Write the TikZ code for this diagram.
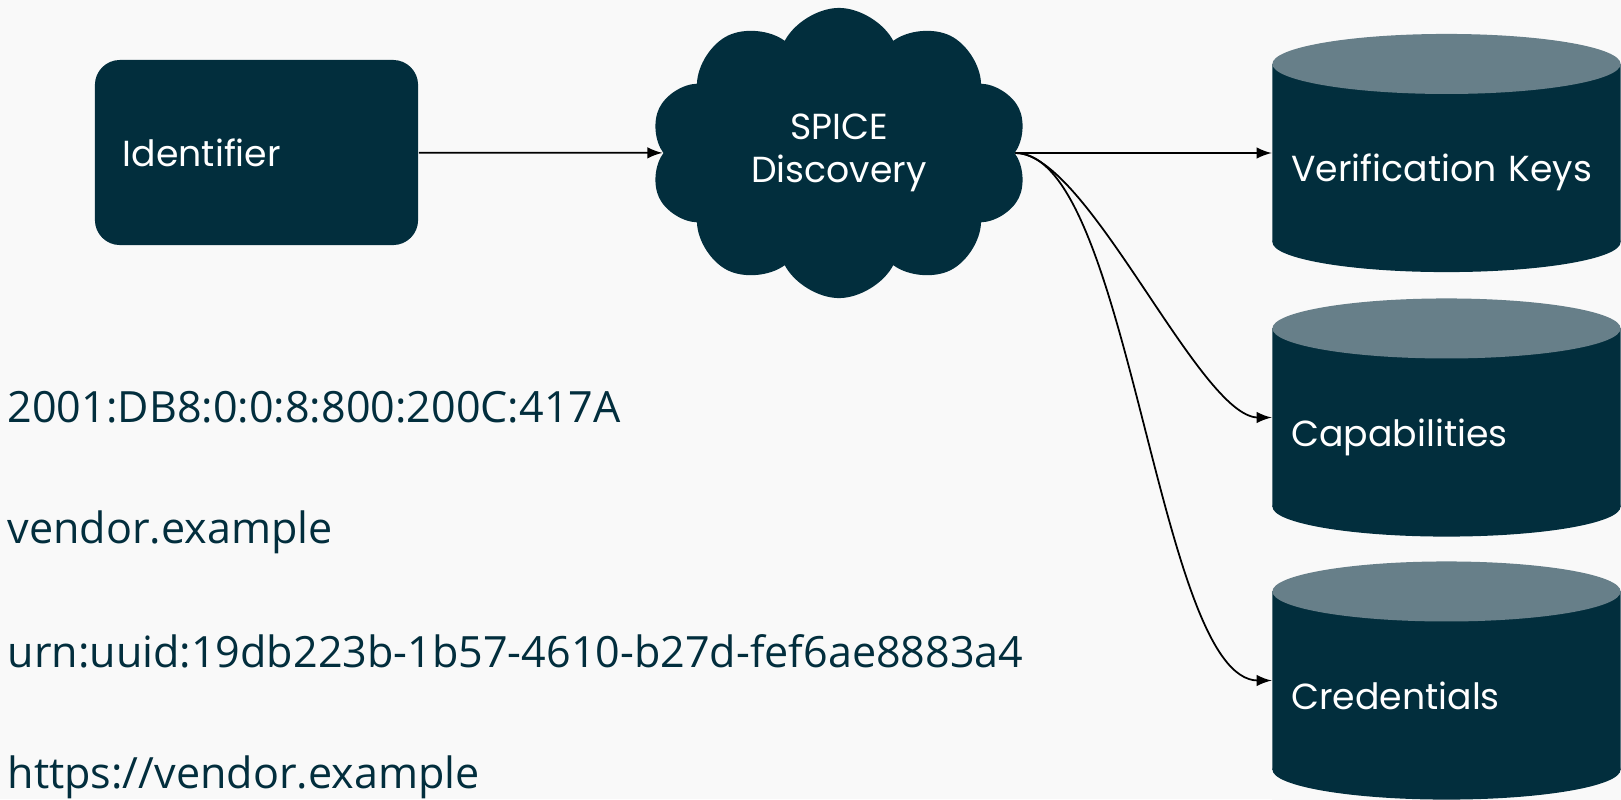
\documentclass[tikz,border=0pt]{standalone}
\usepackage{fontspec}
\setmainfont{Poppins}
\newfontfamily\listfont{Open Sans}
\usetikzlibrary{positioning,arrows,shapes.geometric,shapes.symbols}
\definecolor{spiceteal}{HTML}{022E3D}
\definecolor{spicetop}{HTML}{677F89}
\definecolor{spicebg}{HTML}{F9F9F9}

\begin{document}
\begin{tikzpicture}[x=0.01cm, y=-0.01cm,
  idbox/.style={fill=spiceteal, text=white, rounded corners=0.25cm, minimum width=3.23cm, minimum height=1.85cm, text width=2.67cm, align=left, font=\fontsize{10.3}{12}\selectfont},
  puff/.style={cloud, cloud puffs=10, cloud puff arc=125, cloud ignores aspect, fill=spiceteal, text=white, minimum width=3.78cm, minimum height=2.9cm, align=center, font=\fontsize{10.3}{12.2}\selectfont},
  store/.style={rectangle, fill=spicebg, inner sep=0, minimum width=3.48cm, minimum height=2.38cm, text=white, text width=3.1cm, align=left, text height=0.57cm, text depth=0pt, font=\fontsize{10.3}{12}\selectfont,
    path picture={
      \fill[spiceteal] ([yshift=-0.3cm]path picture bounding box.north west) rectangle ([yshift=0.3cm]path picture bounding box.south east);
      \fill[spiceteal] ([yshift=0.3cm]path picture bounding box.south) ellipse[x radius=1.74cm, y radius=0.3cm];
      \fill[spicetop] ([yshift=-0.3cm]path picture bounding box.north) ellipse[x radius=1.74cm, y radius=0.3cm];
    }},
  ident/.style={anchor=base west, inner sep=0, text=spiceteal, font=\listfont\fontsize{12.25}{15}\selectfont},
  arr/.style={-latex, line width=0.5pt}]
\fill[spicebg] (0,0) rectangle (1621,799);
\useasboundingbox (0,0) rectangle (1621,799);

\node[idbox] (id) at (256.5,152.5) {Identifier};
\node[puff] (spice) at (839,153) {SPICE\\Discovery};
\node[store] (keys) at (1446.5,153) {Verification Keys};
\node[store] (caps) at (1446.5,417.5) {Capabilities};
\node[store] (creds) at (1446.5,680.5) {Credentials};

\node[ident] (ipv6) at (7,422) {2001:DB8:0:0:8:800:200C:417A};
\node[ident] (dns) at (7,543) {vendor.example};
\node[ident] (uuid) at (7,667) {urn:uuid:19db223b-1b57-4610-b27d-fef6ae8883a4};
\node[ident] (url) at (7,788) {https://vendor.example};

\draw[arr] (id) -- (spice);
\draw[arr] (spice.east) -- (keys.west);
\draw[arr] (spice.east) to[out=0, in=180, looseness=0.5] (caps.west);
\draw[arr] (spice.east) to[out=0, in=180, looseness=0.5] (creds.west);
\end{tikzpicture}
\end{document}
